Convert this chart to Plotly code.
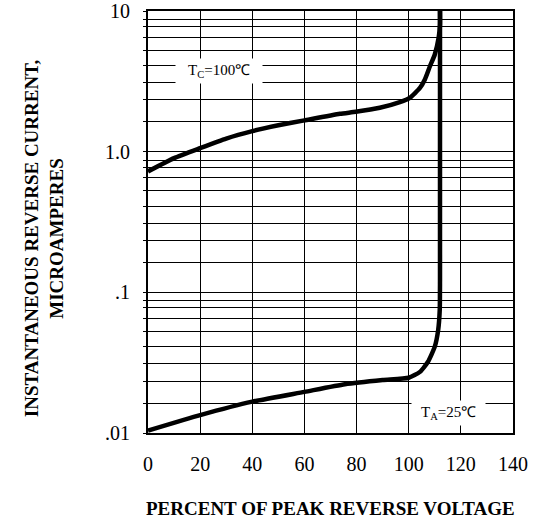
import plotly.graph_objects as go

# Data
tc_x = [0, 10, 20, 30, 40, 50, 60, 73.6, 79.7, 88.9, 96.6, 100.4, 104.3, 106.2, 108.1, 110.0, 111.5, 112.0, 112.0]
tc_y = [0.724, 0.90, 1.06, 1.24, 1.40, 1.54, 1.67, 1.86, 1.92, 2.05, 2.25, 2.41, 2.84, 3.26, 4.03, 4.91, 6.49, 8.0, 10]

ta_x = [0, 20, 40, 60, 75.5, 90, 100, 104.3, 107.4, 110, 111.3, 111.9, 112.0, 112.0]
ta_y = [0.0104, 0.0134, 0.0167, 0.0196, 0.0222, 0.0238, 0.0247, 0.0272, 0.0321, 0.0411, 0.054, 0.075, 0.12, 10]

x_ticks = [0, 20, 40, 60, 80, 100, 120, 140]
decades = [0.01, 0.1, 1, 10]
decade_labels = [".01", ".1", "1.0", "10"]
minor_mult = [1.63, 2.34, 3.11, 4.10, 5.28, 6.50, 7.74, 8.71]

y_vals, y_text = [], []
for d, lab in zip(decades, decade_labels):
    y_vals.append(d)
    y_text.append(lab)
    if d < 10:
        for m in minor_mult:
            y_vals.append(d * m)
            y_text.append(" ")

serif = "Liberation Serif, Times New Roman, serif"

fig = go.Figure()
fig.add_trace(go.Scatter(x=tc_x, y=tc_y, mode="lines",
                         line=dict(color="black", width=4.5, shape="spline", smoothing=0.5),
                         hoverinfo="skip", showlegend=False))
fig.add_trace(go.Scatter(x=ta_x, y=ta_y, mode="lines",
                         line=dict(color="black", width=4.5, shape="spline", smoothing=0.5),
                         hoverinfo="skip", showlegend=False))

fig.add_annotation(x=27.2, y=0.577, xref="x", yref="y", yanchor="middle",
                   text="\u2009\u2009\u2009T<sub>C</sub>=100\u2103\u2009\u2009\u2009",
                   showarrow=False, bgcolor="white", borderpad=3,
                   font=dict(family=serif, size=15, color="black"))
fig.add_annotation(x=115.2, y=-1.859, xref="x", yref="y",
                   text="\u2009\u2009T<sub>A</sub>=25\u2103\u2009\u2009",
                   showarrow=False, bgcolor="white", borderpad=3,
                   font=dict(family=serif, size=15, color="black"))

fig.add_annotation(x=-0.2845, y=0.462, xref="paper", yref="paper",
                   text="<b>INSTANTANEOUS REVERSE CURRENT,<br>MICROAMPERES</b>",
                   textangle=-90, showarrow=False, xanchor="center", yanchor="middle",
                   font=dict(family=serif, size=19, color="black"))
fig.add_annotation(x=0.5, y=-0.179, xref="paper", yref="paper",
                   text="<b>PERCENT OF PEAK REVERSE VOLTAGE</b>",
                   showarrow=False, xanchor="center", yanchor="middle",
                   font=dict(family=serif, size=19, color="black"))

fig.update_xaxes(range=[0, 140], tickvals=x_ticks, showgrid=True, gridcolor="black", gridwidth=1,
                 showline=True, linecolor="black", linewidth=2, mirror=True, ticks="",
                 zeroline=False, ticklabelstandoff=12, automargin=False,
                 ticklabeloverflow="allow",
                 tickfont=dict(family=serif, size=20, color="black"))
fig.update_yaxes(type="log", range=[-2, 1], tickvals=y_vals, ticktext=y_text,
                 showgrid=True, gridcolor="black", gridwidth=1,
                 showline=True, linecolor="black", linewidth=2, mirror=True,
                 ticks="outside", ticklen=3, tickcolor="black", ticklabelstandoff=9,
                 automargin=False, ticklabeloverflow="allow",
                 tickfont=dict(family=serif, size=20, color="black"))

fig.update_layout(width=551, height=525, plot_bgcolor="white", paper_bgcolor="white",
                  margin=dict(l=148, r=38, t=11, b=92))

# remove the page's default 8px body margin so the figure sits at the window's corner
fig.write_html("out.html", config={"displayModeBar": False},
               post_script="document.body.style.margin='0px';")
